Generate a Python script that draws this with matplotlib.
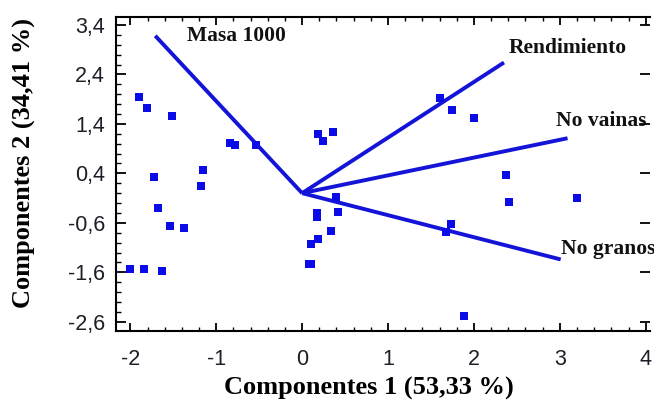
import matplotlib
matplotlib.use("Agg")
import matplotlib.pyplot as plt
from matplotlib.ticker import FixedLocator, MultipleLocator
import numpy as np

# scores (component 1, component 2)
pc1 = [-1.90, -1.81, -1.51, -1.73, -1.15, -1.18, -0.84, -0.78, -0.54, 0.19, 0.24, 0.36,
       -1.68, -1.54, -1.37, -2.00, -1.84, -1.63,
       0.175, 0.175, 0.19, 0.10, 0.08, 0.10, 0.34, 0.42, 0.39,
       1.61, 1.75, 2.00, 2.37, 2.41, 3.20, 1.73, 1.68, 1.88]
pc2 = [1.95, 1.73, 1.55, 0.32, 0.46, 0.14, 1.01, 0.97, 0.97, 1.20, 1.05, 1.24,
       -0.31, -0.67, -0.71, -1.53, -1.53, -1.57,
       -0.41, -0.49, -0.93, -1.02, -1.43, -1.43, -0.76, -0.39, -0.07,
       1.92, 1.68, 1.51, 0.37, -0.17, -0.09, -0.63, -0.79, -2.48]

# variable vectors
var_names = ["Masa 1000", "Rendimiento", "No vainas", "No granos"]
var_x = [-1.71, 2.35, 3.09, 3.01]
var_y = [3.18, 2.64, 1.11, -1.34]

xticks = [-2, -1, 0, 1, 2, 3, 4]
yticks = [-2.6, -1.6, -0.6, 0.4, 1.4, 2.4, 3.4]
ytick_labels = ["-2,6", "-1,6", "-0,6", "0,4", "1,4", "2,4", "3,4"]
xtick_labels = ["-2", "-1", "0", "1", "2", "3", "4"]

SERIF = ["Liberation Serif", "DejaVu Serif"]
SANS = ["Liberation Sans", "DejaVu Sans"]
BLUE_LINE = "#1414d8"
BLUE_PT = "#0b0be8"

fig = plt.figure(figsize=(6.54, 4.0), dpi=100)
ax = fig.add_axes([116 / 654, 1 - 330.7 / 400, (650 - 116) / 654, (330.7 - 17) / 400])

for name, vx, vy in zip(var_names, var_x, var_y):
    ax.plot([0, vx], [0, vy], color=BLUE_LINE, lw=2.8, solid_capstyle="butt", zorder=2)

ax.plot(pc1, pc2, linestyle="none", marker="s", markersize=6, color=BLUE_PT,
        markeredgewidth=0, zorder=3)

label_style = dict(family=SERIF, fontweight="bold", fontsize=15.5, color="#111111")
ax.text(-0.77, 3.18, var_names[0], ha="center", va="center", **label_style)
ax.text(2.40, 2.93, var_names[1], ha="left", va="center", **label_style)
ax.text(2.955, 1.46, var_names[2], ha="left", va="center", **label_style)
ax.text(3.01, -1.13, var_names[3], ha="left", va="center", **label_style)

ax.set_xlim(-2.167, 4.05)
ax.set_ylim(-2.78, 3.56)

ax.xaxis.set_major_locator(FixedLocator(xticks))
ax.set_xticklabels(xtick_labels)
ax.xaxis.set_minor_locator(MultipleLocator(0.2))
ax.yaxis.set_major_locator(FixedLocator(yticks))
ax.set_yticklabels(ytick_labels)
ax.yaxis.set_minor_locator(FixedLocator(np.round(np.arange(-2.6, 3.5, 0.2), 2)))

for lab in ax.get_xticklabels() + ax.get_yticklabels():
    lab.set_family(SANS)
    lab.set_fontsize(15.5)
    lab.set_color("#1e1e28")

ax.tick_params(axis="x", which="major", direction="in", length=6, width=1.3,
               top=True, pad=13)
ax.tick_params(axis="x", which="minor", direction="in", length=3, width=1.0, top=True)
ax.tick_params(axis="y", which="major", direction="in", length=7, width=1.3,
               right=True, pad=8)
ax.tick_params(axis="y", which="minor", direction="in", length=3.5, width=1.0, right=False)

for side in ["left", "bottom", "top"]:
    ax.spines[side].set_linewidth(1.5)
ax.spines["right"].set_visible(False)

ax.set_xlabel("Componentes 1 (53,33 %)", family=SERIF, fontweight="bold", fontsize=19)
ax.set_ylabel("Componentes 2 (34,41 %)", family=SERIF, fontweight="bold", fontsize=19)
ax.xaxis.set_label_coords(0.474, -0.148)
ax.yaxis.set_label_coords(-0.15, 0.533)

fig.savefig("out.png", dpi=100)
